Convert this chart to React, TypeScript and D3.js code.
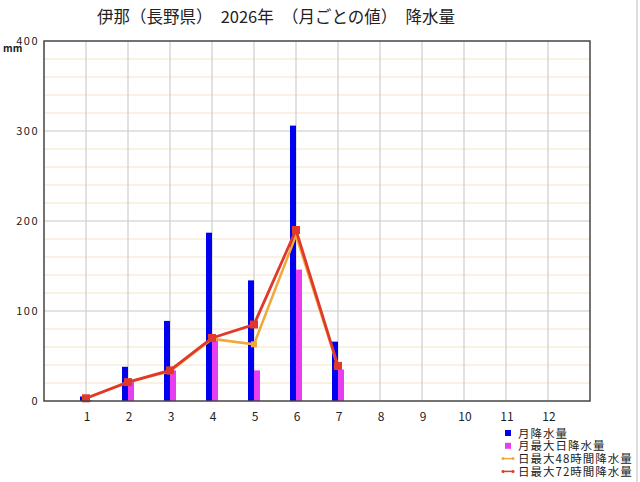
import * as d3 from "d3";
import React from "react";

// monthly precipitation, Ina (Nagano) 2026
const months = [1, 2, 3, 4, 5, 6, 7, 8, 9, 10, 11, 12];
const monthTotal = [5, 38, 89, 187, 134, 306, 66];
const maxDaily = [1, 22, 34, 70, 34, 146, 35];
const max48h = [3, 21, 33, 69, 63, 184, 38];
const max72h = [3, 21, 34, 70, 85, 190, 39];
const yTicks = [0, 100, 200, 300, 400];

const legendItems = [
  { label: "月降水量", color: "#0000f0", type: "box" },
  { label: "月最大日降水量", color: "#e63ef0", type: "box" },
  { label: "日最大48時間降水量", color: "#f0a838", type: "line" },
  { label: "日最大72時間降水量", color: "#e0392b", type: "line" },
];

const W = 640;
const H = 482;
const left = 44;
const right = 590;
const top = 41;
const bottom = 401;
const font = "'Noto Sans CJK JP', 'Noto Sans', sans-serif";

export default function App() {
  const x = d3.scaleLinear().domain([0, 13]).range([left, right]);
  const y = d3.scaleLinear().domain([0, 400]).range([bottom, top]);
  const barW = 6;

  const line = d3
    .line<number>()
    .x((d, i) => x(i + 1))
    .y((d) => y(d));

  const minor = d3.range(20, 400, 20).filter((v) => v % 100 !== 0);

  return (
    <div style={{ position: "absolute", left: 0, top: 0 }}>
      <svg width={W} height={H} style={{ display: "block", background: "#fff" }}>
        {/* title */}
        <text x={276} y={23} textAnchor="middle" fontSize={16.5} fontFamily={font} fill="#222">
          伊那（長野県）　2026年　（月ごとの値）　降水量
        </text>

        {/* grid */}
        {minor.map((v) => (
          <line key={"m" + v} x1={left} x2={right} y1={y(v)} y2={y(v)} stroke="#f4e6c8" strokeWidth={1.2} />
        ))}
        {yTicks.slice(1, -1).map((v) => (
          <line key={"g" + v} x1={left} x2={right} y1={y(v)} y2={y(v)} stroke="#c8c8c8" strokeWidth={1.2} />
        ))}
        {d3.range(1, 13).map((m) => (
          <line key={"v" + m} x1={x(m)} x2={x(m)} y1={top} y2={bottom} stroke="#cdcdcd" strokeWidth={1.2} />
        ))}

        {/* bars */}
        {monthTotal.map((v, i) => (
          <rect key={"b" + i} x={x(i + 1) - barW} y={y(v)} width={barW} height={y(0) - y(v)} fill="#0000f0" />
        ))}
        {maxDaily.map((v, i) => (
          <rect key={"p" + i} x={x(i + 1)} y={y(v)} width={barW} height={y(0) - y(v)} fill="#e63ef0" />
        ))}

        {/* lines */}
        <path d={line(max48h) ?? ""} fill="none" stroke="#f0a838" strokeWidth={2.5} />
        {max48h.map((v, i) => (
          <rect key={"o" + i} x={x(i + 1) - 3} y={y(v) - 3} width={6} height={6} fill="#f0a838" />
        ))}
        <path d={line(max72h) ?? ""} fill="none" stroke="#e0392b" strokeWidth={2.8} />
        {max72h.map((v, i) => (
          <rect key={"r" + i} x={x(i + 1) - 4} y={y(v) - 4} width={8} height={8} fill="#e0392b" />
        ))}

        {/* frame */}
        <rect x={left} y={top} width={right - left} height={bottom - top} fill="none" stroke="#444" strokeWidth={1.5} />

        {/* y axis labels */}
        {yTicks.map((v) => (
          <text key={"y" + v} x={39} y={y(v) + 4} textAnchor="end" fontSize={11} fontFamily={font} fill="#222" letterSpacing={1.5}>
            {v}
          </text>
        ))}
        <text x={3} y={52} fontSize={10} fontFamily={font} fill="#222" fontWeight={700}>
          mm
        </text>

        {/* x axis labels */}
        {months.map((m) => (
          <text key={"x" + m} x={x(m) + 1} y={421} textAnchor="middle" fontSize={12} fontFamily={font} fill="#222">
            {m}
          </text>
        ))}

        {/* legend, rows packed as tightly as in the source */}
        {legendItems.map((d, i) => {
          const cy = 433 + i * 12.8;
          return (
            <g key={"l" + i}>
              {d.type === "box" ? (
                <rect x={505} y={cy - 3} width={6} height={6} fill={d.color} />
              ) : (
                <g>
                  <line x1={502} x2={514} y1={cy} y2={cy} stroke={d.color} strokeWidth={1.5} />
                  <circle cx={503} cy={cy} r={1.5} fill={d.color} />
                  <circle cx={513} cy={cy} r={1.5} fill={d.color} />
                </g>
              )}
              <text x={518} y={cy + 4.5} fontSize={11.5} fontFamily={font} fill="#222" letterSpacing={1}>
                {d.label}
              </text>
            </g>
          );
        })}

        {/* outer right border */}
        <line x1={637} x2={637} y1={0} y2={H} stroke="#bbb" strokeWidth={1} />
      </svg>
    </div>
  );
}
